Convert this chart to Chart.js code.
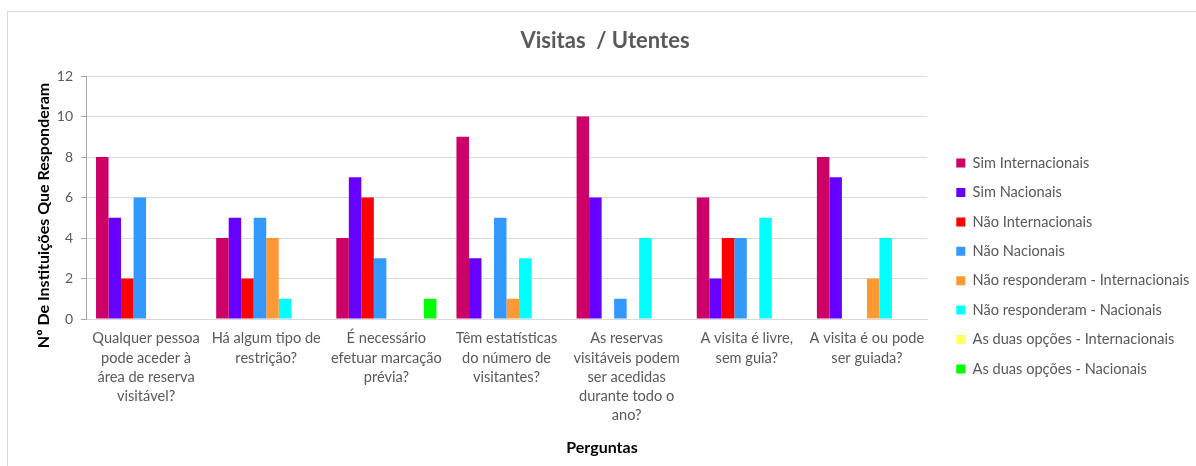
<!DOCTYPE html>
<html>
<head>
<meta charset="utf-8">
<script src="https://cdn.jsdelivr.net/npm/chart.js@4"></script>
<style>
  html, body { margin: 0; padding: 0; background: #ffffff; overflow: hidden; }
  #frame { position: absolute; left: 7px; top: 11px; width: 1250px; height: 520px; border: 1px solid #d9d9d9; }
  #wrap { position: absolute; left: 0; top: 0; width: 1196px; height: 466px; }
</style>
</head>
<body>
<div id="frame"></div>
<div id="wrap"><canvas id="c" width="1196" height="466"></canvas></div>
<script>
// ---- data ----
const categories = [
  ["Qualquer pessoa", "pode aceder à", "área de reserva", "visitável?"],
  ["Há algum tipo de", "restrição?"],
  ["É necessário", "efetuar marcação", "prévia?"],
  ["Têm estatísticas", "do número de", "visitantes?"],
  ["As reservas", "visitáveis podem", "ser acedidas", "durante todo o", "ano?"],
  ["A visita é livre,", "sem guia?"],
  ["A visita é ou pode", "ser guiada?"]
];
const seriesNames = [
  "Sim Internacionais",
  "Sim Nacionais",
  "Não Internacionais",
  "Não Nacionais",
  "Não responderam - Internacionais",
  "Não responderam - Nacionais",
  "As duas opções - Internacionais",
  "As duas opções - Nacionais"
];
const simInternacionais        = [8, 4, 4, 9, 10, 6, 8];
const simNacionais             = [5, 5, 7, 3, 6, 2, 7];
const naoInternacionais        = [2, 2, 6, 0, 0, 4, 0];
const naoNacionais             = [6, 5, 3, 5, 1, 4, 0];
const naoRespInternacionais    = [0, 4, 0, 1, 0, 0, 2];
const naoRespNacionais         = [0, 1, 0, 3, 4, 5, 4];
const ambasInternacionais      = [0, 0, 0, 0, 0, 0, 0];
const ambasNacionais           = [0, 0, 1, 0, 0, 0, 0];
const yTicks = [0, 2, 4, 6, 8, 10, 12];

const seriesValues = [simInternacionais, simNacionais, naoInternacionais, naoNacionais,
  naoRespInternacionais, naoRespNacionais, ambasInternacionais, ambasNacionais];
const colors = ["#CC0066", "#6600FF", "#FF0000", "#3399FF", "#FF9933", "#00FFFF", "#FFFF66", "#00FF00"];

const FONT = "Lato, 'Open Sans', sans-serif";
const GREY = "#595959";

// layout helper: fixed legend column and small offsets of the text blocks
const layoutTweaks = {
  id: 'layoutTweaks',
  beforeLayout(chart) {
    const lg = chart.legend;
    if (lg && !lg._patched) {
      const origFit = lg.fit.bind(lg);
      lg.fit = function () { origFit(); this.width = 269; };
      lg._patched = true;
    }
  },
  afterLayout(chart) {
    const lg = chart.legend;
    if (lg) {
      const w = lg.right - lg.left;
      lg.left = 941.5; lg.right = lg.left + w;
      lg.top = 141; lg.bottom = lg.top + 250;
    }
    const tb = chart.titleBlock;
    if (tb) { tb.left += 7; tb.right += 7; }
    chart.boxes.forEach(b => {
      if (b.options && b.options.text === 'Perguntas') { b.left += 4; b.right += 4; }
    });
    const ys = chart.scales.y;
    if (ys && !ys._tp) {
      const orig = ys.drawTitle.bind(ys);
      ys.drawTitle = function () {
        const t = this.top, bt = this.bottom;
        this.top += 18; this.bottom += 18;
        orig();
        this.top = t; this.bottom = bt;
      };
      ys._tp = true;
    }
  }
};

new Chart(document.getElementById('c'), {
  type: 'bar',
  data: {
    labels: categories,
    datasets: seriesNames.map((name, i) => ({
      label: name,
      data: seriesValues[i],
      backgroundColor: colors[i],
      borderWidth: 0,
      categoryPercentage: 0.833,
      barPercentage: 1.0
    }))
  },
  options: {
    responsive: false,
    animation: false,
    layout: { padding: 0 },
    plugins: {
      title: {
        display: true,
        text: 'Visitas  / Utentes',
        color: GREY,
        font: { family: FONT, size: 22, weight: 'bold' },
        padding: { top: 27.8, bottom: 21.8 }
      },
      subtitle: {
        display: true,
        position: 'bottom',
        text: 'Perguntas',
        color: '#000000',
        font: { family: FONT, size: 16, weight: 'bold' },
        padding: { top: 4, bottom: 8.4 }
      },
      legend: {
        position: 'right',
        align: 'start',
        labels: {
          color: GREY,
          font: { family: FONT, size: 14.6 },
          boxWidth: 9,
          boxHeight: 9,
          padding: 14.8
        }
      },
      tooltip: { enabled: false }
    },
    scales: {
      x: {
        grid: { display: false, drawTicks: false },
        border: { display: true, color: '#d9d9d9' },
        ticks: {
          color: GREY,
          font: { family: FONT, size: 14.6, lineHeight: 1.32 },
          padding: 10,
          maxRotation: 0,
          autoSkip: false
        },
        afterFit(scale) { scale.height = 115.4; }
      },
      y: {
        min: 0,
        max: 12,
        afterBuildTicks(scale) { scale.ticks = yTicks.map(v => ({ value: v })); },
        grid: { color: '#d9d9d9', lineWidth: 1, drawTicks: true, tickLength: 5, tickColor: '#a6a6a6' },
        border: { display: true, color: '#a6a6a6' },
        ticks: {
          color: GREY,
          font: { family: FONT, size: 14 },
          padding: 8
        },
        title: {
          display: true,
          text: 'Nº De Instituições Que Responderam',
          color: '#000000',
          font: { family: FONT, size: 16, weight: 'bold' },
          padding: { top: 34.4, bottom: 0 }
        },
        afterFit(scale) { scale.width = 86; }
      }
    }
  },
  plugins: [layoutTweaks]
});
</script>
</body>
</html>
